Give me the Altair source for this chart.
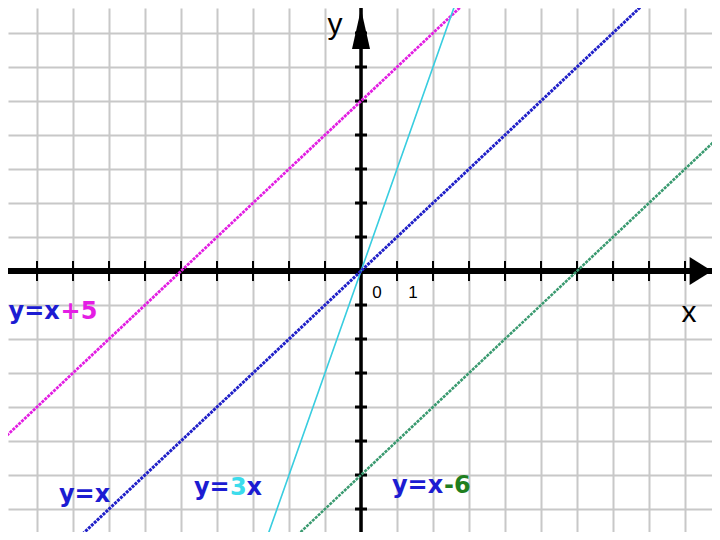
import altair as alt
import pandas as pd

# ---- data ----
X_DOMAIN = [-9.806, 9.75]
Y_DOMAIN = [-7.676, 7.735]

grid_x = list(range(-9, 10))
grid_y = list(range(-7, 8))
tick_x = [v for v in grid_x if v != 0]
tick_y = [v for v in grid_y if v != 0]

line_names = ["y=x+5", "y=3x", "y=x", "y=x-6"]
line_x = [-10, 10]
line_y = {
    "y=x+5": [-5, 15],
    "y=3x": [-30, 30],
    "y=x": [-10, 10],
    "y=x-6": [-16, 4],
}
line_colors = {"y=x+5": "#e21ee2", "y=3x": "#38cde0", "y=x": "#2020c8", "y=x-6": "#3a9a70"}
line_widths = {"y=x+5": 2.8, "y=3x": 1.6, "y=x": 3.0, "y=x-6": 2.6}

tick_labels = ["0", "1"]
tick_label_x = [0, 1]

axis_names = ["x", "y"]
axis_name_x = [9.11, -0.72]
axis_name_y = [-1.5, 6.98]

BLUE = "#1c1cd2"
ann_x = [-9.79, -8.39, -4.64, 0.86]
ann_y = [-1.42, -6.79, -6.59, -6.54]
ann_segments = [
    [("y=x", BLUE, 0), ("+5", "#e41ee4", 52)],
    [("y=x", BLUE, 0)],
    [("y=", BLUE, 0), ("3", "#3cdcec", 36), ("x", BLUE, 52.5)],
    [("y=x", BLUE, 0), ("-6", "#1f7f1f", 52)],
]

# ---- scales / axes ----
xs = alt.Scale(domain=X_DOMAIN, nice=False, zero=False)
ys = alt.Scale(domain=Y_DOMAIN, nice=False, zero=False)
ax_x = alt.Axis(values=grid_x, grid=True, labels=False, ticks=False, domain=False,
                title=None, gridColor="#c8c8c8", gridWidth=2)
ax_y = alt.Axis(values=grid_y, grid=True, labels=False, ticks=False, domain=False,
                title=None, gridColor="#c8c8c8", gridWidth=2)


def X(f):
    return alt.X(f, type="quantitative", scale=xs, axis=ax_x)


def Y(f):
    return alt.Y(f, type="quantitative", scale=ys, axis=ax_y)


layers = []

# grid base (invisible point carries the axes/grid)
grid_df = pd.DataFrame({"gx": [X_DOMAIN[0]], "gy": [Y_DOMAIN[0]]})
layers.append(alt.Chart(grid_df).mark_point(opacity=0).encode(x=X("gx"), y=Y("gy")))

# axes lines
layers.append(alt.Chart(pd.DataFrame({"ay": [0]})).mark_rule(color="black", strokeWidth=6)
              .encode(y=Y("ay")))
layers.append(alt.Chart(pd.DataFrame({"ax": [0]})).mark_rule(color="black", strokeWidth=3.5)
              .encode(x=X("ax")))

# ticks on axes
tx_df = pd.DataFrame({"tx": tick_x, "ty": [0] * len(tick_x)})
layers.append(alt.Chart(tx_df).mark_rule(color="black", strokeWidth=2, yOffset=-10, y2Offset=10)
              .encode(x=X("tx"), y=Y("ty"), y2="ty"))
ty_df = pd.DataFrame({"tx": [0] * len(tick_y), "ty": tick_y})
layers.append(alt.Chart(ty_df).mark_rule(color="black", strokeWidth=3, xOffset=-6, x2Offset=6)
              .encode(x=X("tx"), x2="tx", y=Y("ty")))

# arrows
layers.append(alt.Chart(pd.DataFrame({"px": [9.44], "py": [0]}))
              .mark_point(shape="M0.8,0 L-0.8,-1 L-0.8,1 Z", size=784, filled=True,
                          color="black", opacity=1, strokeWidth=0)
              .encode(x=X("px"), y=Y("py")))
layers.append(alt.Chart(pd.DataFrame({"px": [0], "py": [7.12]}))
              .mark_point(shape="M0,-1 L0.45,1 L-0.45,1 Z", size=1600, filled=True,
                          color="black", opacity=1, strokeWidth=0)
              .encode(x=X("px"), y=Y("py")))

# function lines
for name in line_names:
    df = pd.DataFrame({"lx": line_x, "ly": line_y[name]})
    mk = dict(color=line_colors[name], strokeWidth=line_widths[name], clip=True)
    if name != "y=3x":
        mk["strokeDash"] = [3, 1]
    layers.append(alt.Chart(df).mark_line(**mk).encode(x=X("lx"), y=Y("ly")))

# tick labels 0, 1
tl_df = pd.DataFrame({"lx": tick_label_x, "ly": [0, 0], "t": tick_labels})
layers.append(alt.Chart(tl_df).mark_text(font="Liberation Sans", fontSize=17, color="black",
                                          align="center", baseline="alphabetic", dx=16, dy=27)
              .encode(x=X("lx"), y=Y("ly"), text="t:N"))

# axis names
an_df = pd.DataFrame({"lx": axis_name_x, "ly": axis_name_y, "t": axis_names})
layers.append(alt.Chart(an_df).mark_text(font="Liberation Sans", fontSize=30, color="black",
                                          align="center", baseline="alphabetic")
              .encode(x=X("lx"), y=Y("ly"), text="t:N"))

# equation annotations
for ax_, ay_, segs in zip(ann_x, ann_y, ann_segments):
    for txt, col, off in segs:
        df = pd.DataFrame({"lx": [ax_], "ly": [ay_], "t": [txt]})
        layers.append(alt.Chart(df).mark_text(font="DejaVu Sans", fontWeight="bold", fontSize=24,
                                               color=col, align="left", baseline="alphabetic", dx=off)
                      .encode(x=X("lx"), y=Y("ly"), text="t:N"))

chart = (alt.layer(*layers)
         .properties(width=704, height=524, padding=0, autosize="none", background="white")
         .configure_view(stroke=None))

chart.save("out.html", embed_options={"renderer": "svg", "actions": False})
